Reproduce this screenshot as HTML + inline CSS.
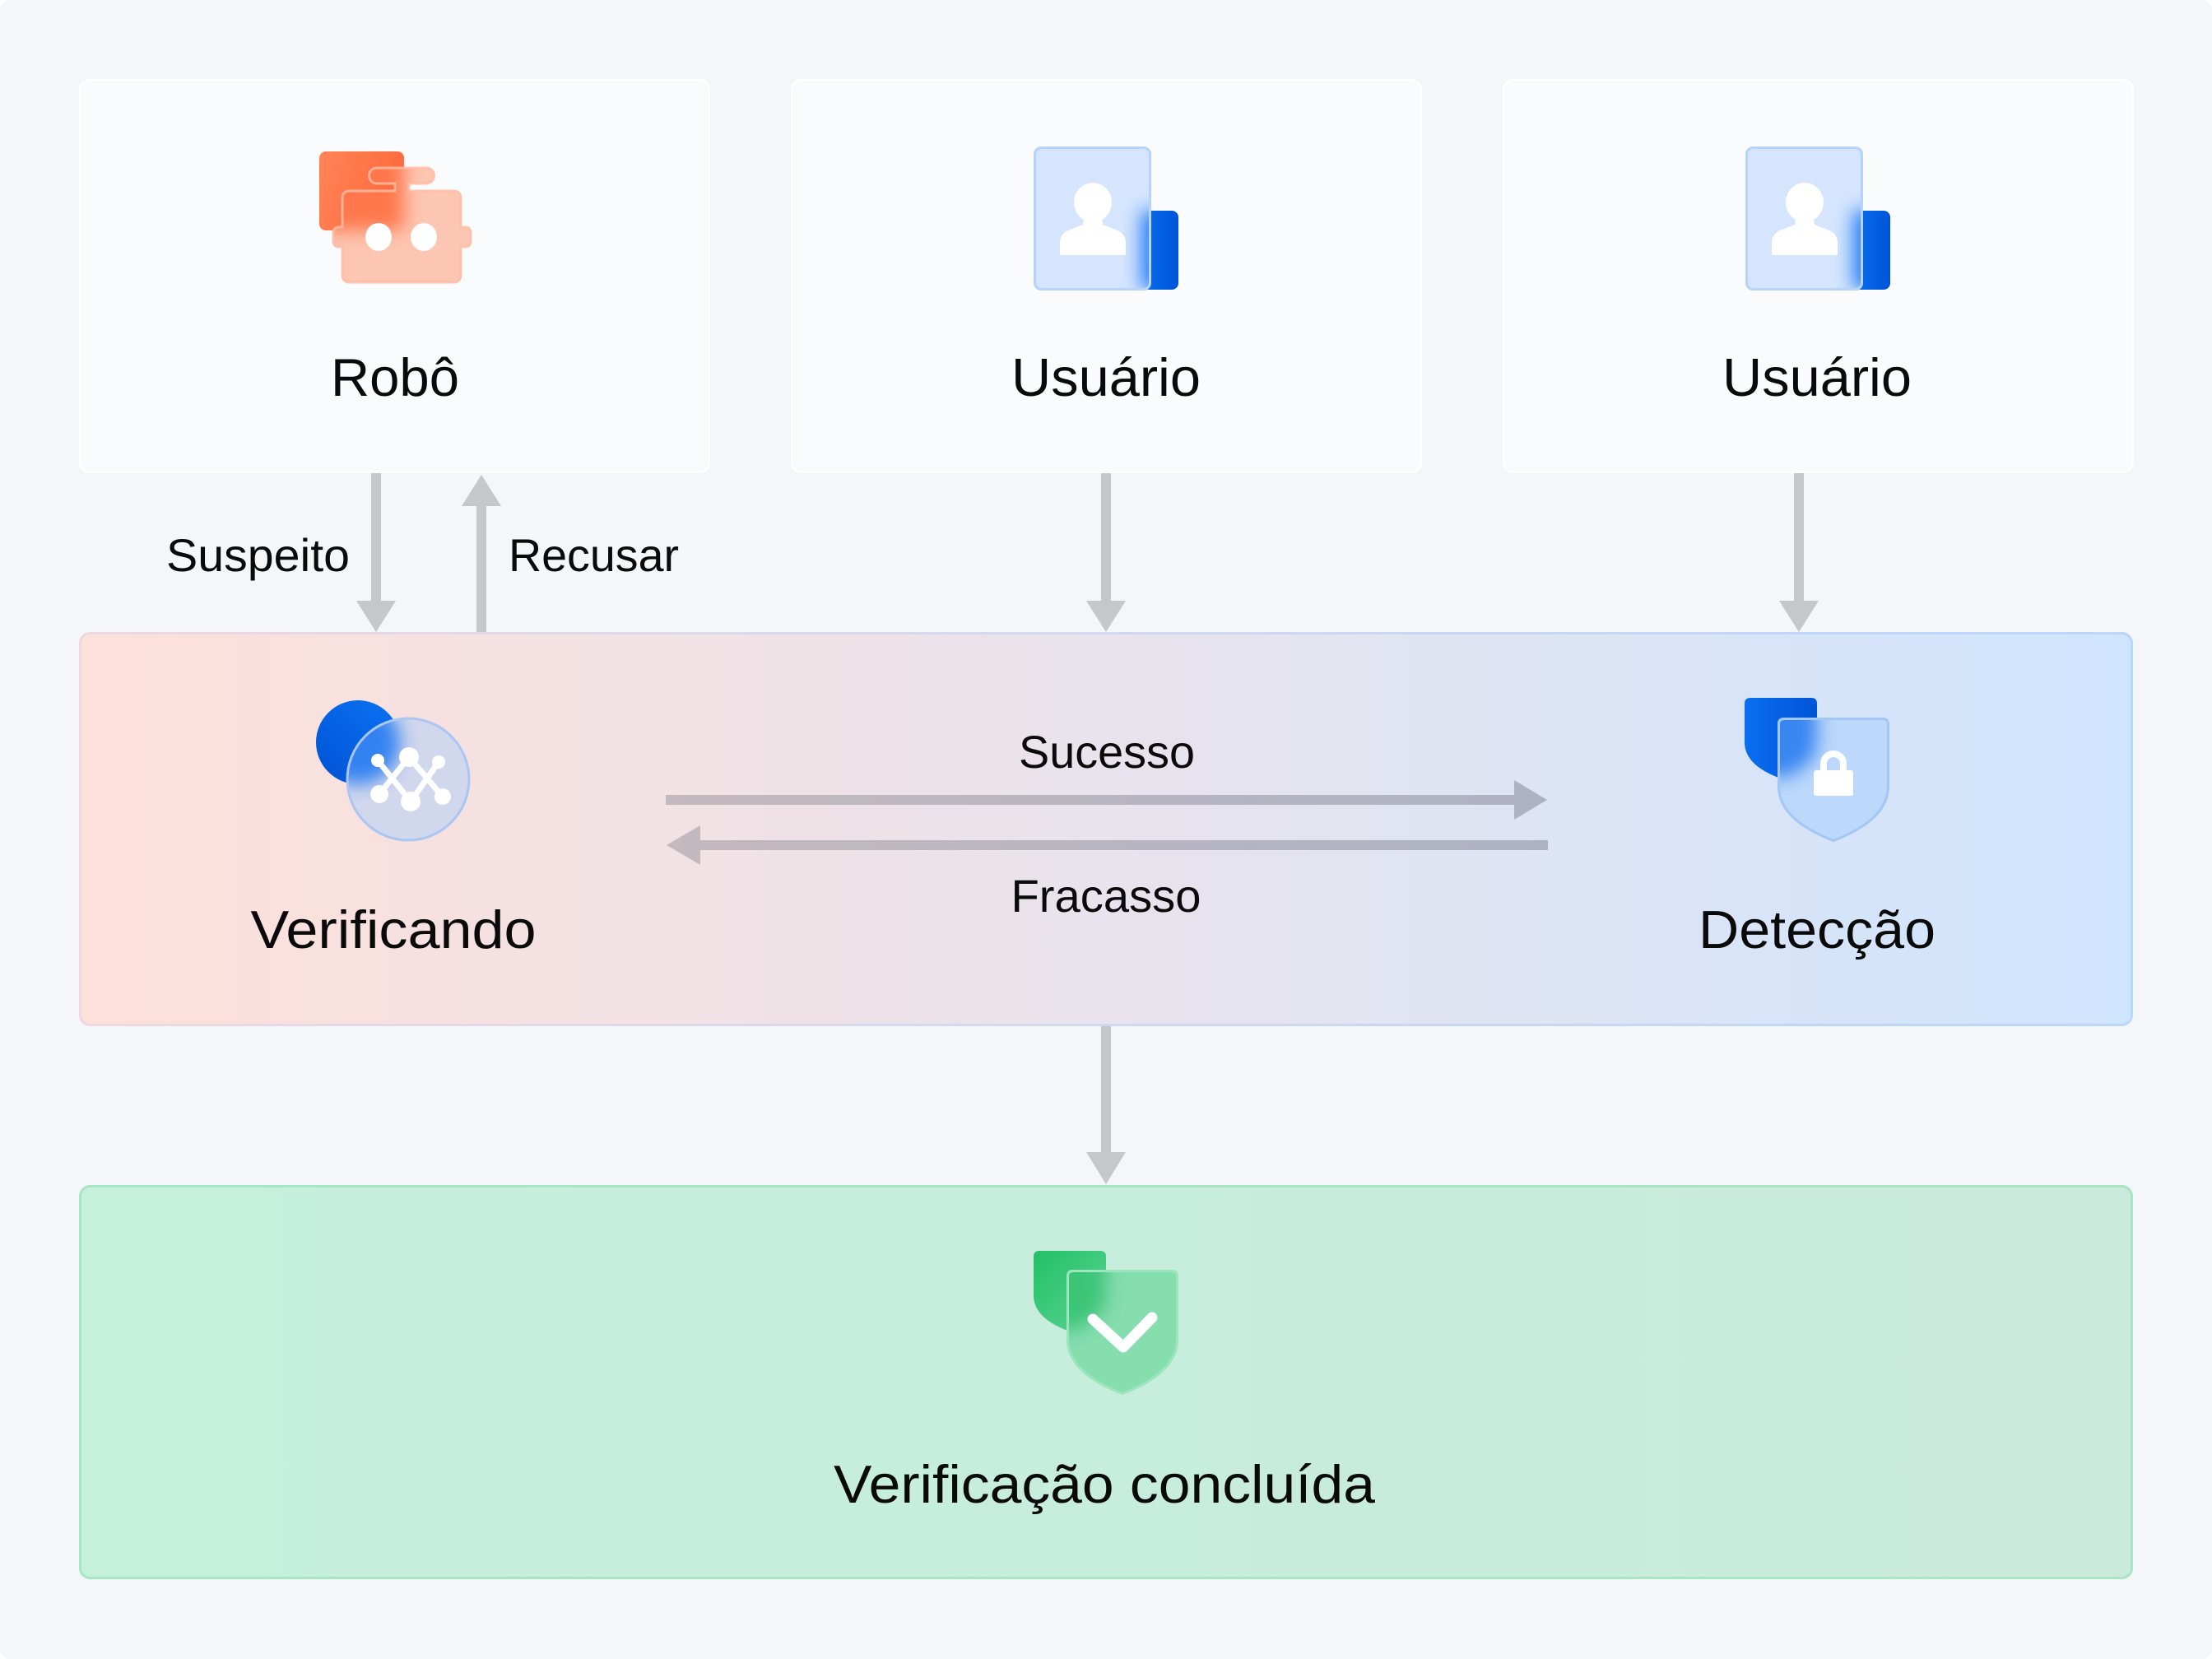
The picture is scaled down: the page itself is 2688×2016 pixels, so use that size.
<!DOCTYPE html>
<html>
<head>
<meta charset="utf-8">
<style>
  html,body{margin:0;padding:0;background:#ffffff;}
  svg{display:block;}
  text{font-family:"Liberation Sans", "Noto Sans CJK SC", sans-serif;fill:#0a0a0a;}
</style>
</head>
<body>
<svg width="2688" height="2016" viewBox="0 0 2688 2016" xmlns="http://www.w3.org/2000/svg">
  <defs>
    <linearGradient id="midFill" x1="96" y1="0" x2="2592" y2="0" gradientUnits="userSpaceOnUse">
      <stop offset="0" stop-color="#fee0da"/>
      <stop offset="0.5" stop-color="#e8e3ec"/>
      <stop offset="1" stop-color="#cfe5fe"/>
    </linearGradient>
    <linearGradient id="midStroke" x1="96" y1="0" x2="2592" y2="0" gradientUnits="userSpaceOnUse">
      <stop offset="0" stop-color="#ecd8e0"/>
      <stop offset="0.35" stop-color="#d8d8ec"/>
      <stop offset="1" stop-color="#b9d6fb"/>
    </linearGradient>
    <linearGradient id="botFill" x1="96" y1="0" x2="2592" y2="0" gradientUnits="userSpaceOnUse">
      <stop offset="0" stop-color="#c4f0dc"/>
      <stop offset="1" stop-color="#caeadb"/>
    </linearGradient>
    <linearGradient id="hArrow" x1="809" y1="0" x2="1880" y2="0" gradientUnits="userSpaceOnUse">
      <stop offset="0" stop-color="#c3b9be"/>
      <stop offset="1" stop-color="#adb2c3"/>
    </linearGradient>
    <linearGradient id="orangeG" x1="0" y1="0" x2="1" y2="0.3">
      <stop offset="0" stop-color="#ff8457"/>
      <stop offset="1" stop-color="#ff6a3c"/>
    </linearGradient>
    <linearGradient id="blueG" x1="0" y1="0" x2="1" y2="0">
      <stop offset="0" stop-color="#0a6ef0"/>
      <stop offset="1" stop-color="#0054d6"/>
    </linearGradient>
    <linearGradient id="blueC" x1="0" y1="1" x2="1" y2="0">
      <stop offset="0" stop-color="#0052d4"/>
      <stop offset="1" stop-color="#0a74f4"/>
    </linearGradient>
    <linearGradient id="greenG" x1="0" y1="0" x2="1" y2="1">
      <stop offset="0" stop-color="#22c066"/>
      <stop offset="1" stop-color="#5cd494"/>
    </linearGradient>
    <filter id="blur" x="-50%" y="-50%" width="200%" height="200%">
      <feGaussianBlur stdDeviation="11"/>
    </filter>

    <clipPath id="robotClip">
      <path d="M424 232 L480 232 L480 223 L458 223 A9.5 9.5 0 0 1 458 204 L518 204 A9.5 9.5 0 0 1 518 223 L497 223 L497 232 L552 232 A8 8 0 0 1 560 240 L560 276 L566 276 A6 6 0 0 1 572 282 L572 294 A6 6 0 0 1 566 300 L560 300 L560 335 A8 8 0 0 1 552 343 L424 343 A8 8 0 0 1 416 335 L416 300 L411 300 A6 6 0 0 1 405 294 L405 282 A6 6 0 0 1 411 276 L416 276 L416 240 A8 8 0 0 1 424 232 Z"/>
    </clipPath>
    <clipPath id="card1Clip"><rect x="1256" y="178" width="143" height="175" rx="9"/></clipPath>
    <clipPath id="card2Clip"><rect x="2121" y="178" width="143" height="175" rx="9"/></clipPath>
    <clipPath id="circClip"><circle cx="496" cy="947" r="75"/></clipPath>
    <clipPath id="shieldBClip">
      <path d="M2168 872 L2288 872 Q2296 872 2296 880 L2296 955 C2296 990 2262 1010 2228 1023 C2194 1010 2160 990 2160 955 L2160 880 Q2160 872 2168 872 Z"/>
    </clipPath>
    <clipPath id="shieldGClip">
      <path d="M1304 1543 L1424 1543 Q1432 1543 1432 1551 L1432 1627 C1432 1662 1398 1682 1364 1695 C1330 1682 1296 1662 1296 1627 L1296 1551 Q1296 1543 1304 1543 Z"/>
    </clipPath>
  </defs>

  <!-- background -->
  <rect x="0" y="0" width="2688" height="2016" rx="12" fill="#f5f6fa"/>

  <!-- top boxes -->
  <rect x="97" y="97" width="765" height="477" rx="12" fill="#fafbfd" stroke="#ffffff" stroke-width="2"/>
  <rect x="962" y="97" width="765" height="477" rx="12" fill="#fafbfd" stroke="#ffffff" stroke-width="2"/>
  <rect x="1827" y="97" width="765" height="477" rx="12" fill="#fafbfd" stroke="#ffffff" stroke-width="2"/>

  <!-- middle band -->
  <rect x="97.5" y="769.5" width="2493" height="476" rx="12" fill="url(#midFill)" stroke="url(#midStroke)" stroke-width="3"/>

  <!-- bottom band -->
  <rect x="97.5" y="1441.5" width="2493" height="476" rx="12" fill="url(#botFill)" stroke="#a8e5c4" stroke-width="3"/>

  <!-- vertical arrows -->
  <g fill="#c6c7ca">
    <!-- Suspeito (down) -->
    <rect x="451" y="575" width="12" height="157"/>
    <polygon points="433,730 481,730 457,768"/>
    <!-- Recusar (up) -->
    <rect x="579" y="613" width="12" height="155"/>
    <polygon points="561,615 609,615 585,577"/>
    <!-- Usuario 1 -->
    <rect x="1338" y="575" width="12" height="157"/>
    <polygon points="1320,730 1368,730 1344,768"/>
    <!-- Usuario 2 -->
    <rect x="2180" y="575" width="12" height="157"/>
    <polygon points="2162,730 2210,730 2186,768"/>
    <!-- bottom -->
    <rect x="1338" y="1247" width="12" height="155"/>
    <polygon points="1320,1400 1368,1400 1344,1439"/>
  </g>

  <!-- horizontal arrows -->
  <g fill="url(#hArrow)">
    <rect x="809" y="966" width="1033" height="12"/>
    <polygon points="1840,948 1840,996 1880,972"/>
    <rect x="849" y="1021" width="1032" height="12"/>
    <polygon points="851,1003 851,1051 810,1027"/>
  </g>

  <!-- Robot icon -->
  <rect x="388" y="184" width="103" height="96" rx="8" fill="url(#orangeG)"/>
  <g clip-path="url(#robotClip)">
    <rect x="380" y="180" width="200" height="170" fill="#fdc6b2"/>
    <rect x="388" y="184" width="103" height="96" rx="8" fill="#ff6e40" opacity="0.9" filter="url(#blur)"/>
  </g>
  <path d="M424 232 L480 232 L480 223 L458 223 A9.5 9.5 0 0 1 458 204 L518 204 A9.5 9.5 0 0 1 518 223 L497 223 L497 232 L552 232 A8 8 0 0 1 560 240 L560 276 L566 276 A6 6 0 0 1 572 282 L572 294 A6 6 0 0 1 566 300 L560 300 L560 335 A8 8 0 0 1 552 343 L424 343 A8 8 0 0 1 416 335 L416 300 L411 300 A6 6 0 0 1 405 294 L405 282 A6 6 0 0 1 411 276 L416 276 L416 240 A8 8 0 0 1 424 232 Z" fill="none" stroke="#ffbba4" stroke-opacity="0.85" stroke-width="3"/>
  <ellipse cx="460" cy="288" rx="16" ry="17" fill="#ffffff"/>
  <ellipse cx="515" cy="288" rx="16" ry="17" fill="#ffffff"/>

  <!-- User icon 1 -->
  <rect x="1387" y="256" width="45" height="96" rx="8" fill="url(#blueG)"/>
  <g clip-path="url(#card1Clip)">
    <rect x="1250" y="170" width="160" height="190" fill="#d4e5fd"/>
    <rect x="1387" y="256" width="45" height="96" rx="8" fill="#1f78f4" opacity="0.95" filter="url(#blur)"/>
  </g>
  <rect x="1257.5" y="179.5" width="140" height="172" rx="8" fill="none" stroke="#b7d3fb" stroke-width="3"/>
  <g fill="#ffffff">
    <ellipse cx="1328" cy="246" rx="23" ry="24"/>
    <path d="M1317 266 L1339 266 L1340 273 L1358 280 Q1368 284 1368 296 L1368 310 L1288 310 L1288 296 Q1288 284 1298 280 L1316 273 Z"/>
  </g>

  <!-- User icon 2 -->
  <rect x="2252" y="256" width="45" height="96" rx="8" fill="url(#blueG)"/>
  <g clip-path="url(#card2Clip)">
    <rect x="2115" y="170" width="160" height="190" fill="#d4e5fd"/>
    <rect x="2252" y="256" width="45" height="96" rx="8" fill="#1f78f4" opacity="0.95" filter="url(#blur)"/>
  </g>
  <rect x="2122.5" y="179.5" width="140" height="172" rx="8" fill="none" stroke="#b7d3fb" stroke-width="3"/>
  <g fill="#ffffff">
    <ellipse cx="2193" cy="246" rx="23" ry="24"/>
    <path d="M2182 266 L2204 266 L2205 273 L2223 280 Q2233 284 2233 296 L2233 310 L2153 310 L2153 296 Q2153 284 2163 280 L2181 273 Z"/>
  </g>

  <!-- Verification icon -->
  <circle cx="435" cy="902" r="51" fill="url(#blueC)"/>
  <g clip-path="url(#circClip)">
    <rect x="415" y="866" width="165" height="165" fill="#d1d7ed"/>
    <circle cx="435" cy="902" r="51" fill="#2a7ef2" opacity="0.95" filter="url(#blur)"/>
  </g>
  <circle cx="496" cy="947" r="74" fill="none" stroke="#aac6f3" stroke-width="3"/>
  <g stroke="#ffffff" stroke-width="7" stroke-linecap="round">
    <line x1="459" y1="924" x2="499" y2="974"/>
    <line x1="497" y1="920" x2="461" y2="965"/>
    <line x1="497" y1="920" x2="538" y2="968"/>
    <line x1="533" y1="926" x2="499" y2="974"/>
  </g>
  <g fill="#ffffff">
    <circle cx="459" cy="924" r="8"/>
    <circle cx="497" cy="920" r="12"/>
    <circle cx="533" cy="926" r="8"/>
    <circle cx="461" cy="965" r="11"/>
    <circle cx="499" cy="974" r="12"/>
    <circle cx="538" cy="968" r="10"/>
  </g>

  <!-- Detection icon -->
  <path d="M2127 848 L2201 848 Q2208 848 2208 855 L2208 902 C2208 925 2186 938 2164 946 C2142 938 2120 925 2120 902 L2120 855 Q2120 848 2127 848 Z" fill="url(#blueG)"/>
  <g clip-path="url(#shieldBClip)">
    <rect x="2150" y="860" width="160" height="170" fill="#bcd8fb"/>
    <path d="M2127 848 L2201 848 Q2208 848 2208 855 L2208 902 C2208 925 2186 938 2164 946 C2142 938 2120 925 2120 902 L2120 855 Q2120 848 2127 848 Z" fill="#2a7ef0" opacity="0.9" filter="url(#blur)"/>
  </g>
  <path d="M2168 873.5 L2288 873.5 Q2294.5 873.5 2294.5 880 L2294.5 955 C2294.5 989 2261 1008.5 2228 1021.5 C2195 1008.5 2161.5 989 2161.5 955 L2161.5 880 Q2161.5 873.5 2168 873.5 Z" fill="none" stroke="#a2c6f6" stroke-width="3"/>
  <rect x="2204" y="936" width="48" height="31" rx="3" fill="#ffffff"/>
  <path d="M2216 940 L2216 928 A12 12 0 0 1 2240 928 L2240 940" fill="none" stroke="#ffffff" stroke-width="8"/>

  <!-- Success icon -->
  <path d="M1263 1520 L1337 1520 Q1344 1520 1344 1527 L1344 1574 C1344 1597 1322 1610 1300 1618 C1278 1610 1256 1597 1256 1574 L1256 1527 Q1256 1520 1263 1520 Z" fill="url(#greenG)"/>
  <g clip-path="url(#shieldGClip)">
    <rect x="1286" y="1530" width="160" height="175" fill="#86ddae"/>
    <path d="M1263 1520 L1337 1520 Q1344 1520 1344 1527 L1344 1574 C1344 1597 1322 1610 1300 1618 C1278 1610 1256 1597 1256 1574 L1256 1527 Q1256 1520 1263 1520 Z" fill="#34c272" opacity="0.9" filter="url(#blur)"/>
  </g>
  <path d="M1304 1544.5 L1424 1544.5 Q1430.5 1544.5 1430.5 1551 L1430.5 1627 C1430.5 1661 1397 1680.5 1364 1693.5 C1331 1680.5 1297.5 1661 1297.5 1627 L1297.5 1551 Q1297.5 1544.5 1304 1544.5 Z" fill="none" stroke="#9ce5bd" stroke-width="3"/>
  <path d="M1328 1603 L1365 1637 L1400 1601" fill="none" stroke="#ffffff" stroke-width="13" stroke-linecap="round" stroke-linejoin="round"/>

  <!-- Labels -->
  <text x="480" y="481" font-size="65" text-anchor="middle" textLength="156" lengthAdjust="spacingAndGlyphs">Robô</text>
  <text x="1344" y="481" font-size="65" text-anchor="middle" textLength="230" lengthAdjust="spacingAndGlyphs">Usuário</text>
  <text x="2208" y="481" font-size="65" text-anchor="middle" textLength="230" lengthAdjust="spacingAndGlyphs">Usuário</text>

  <text x="202" y="694" font-size="56" textLength="223" lengthAdjust="spacingAndGlyphs">Suspeito</text>
  <text x="618" y="694" font-size="56" textLength="207" lengthAdjust="spacingAndGlyphs">Recusar</text>

  <text x="1345" y="933" font-size="56" text-anchor="middle" textLength="214" lengthAdjust="spacingAndGlyphs">Sucesso</text>
  <text x="1344" y="1108" font-size="56" text-anchor="middle" textLength="231" lengthAdjust="spacingAndGlyphs">Fracasso</text>

  <text x="478" y="1152" font-size="65" text-anchor="middle" textLength="347" lengthAdjust="spacingAndGlyphs">Verificando</text>
  <text x="2208" y="1152" font-size="65" text-anchor="middle" textLength="288" lengthAdjust="spacingAndGlyphs">Detecção</text>

  <text x="1342" y="1826" font-size="65" text-anchor="middle" textLength="658" lengthAdjust="spacingAndGlyphs">Verificação concluída</text>
</svg>
</body>
</html>
